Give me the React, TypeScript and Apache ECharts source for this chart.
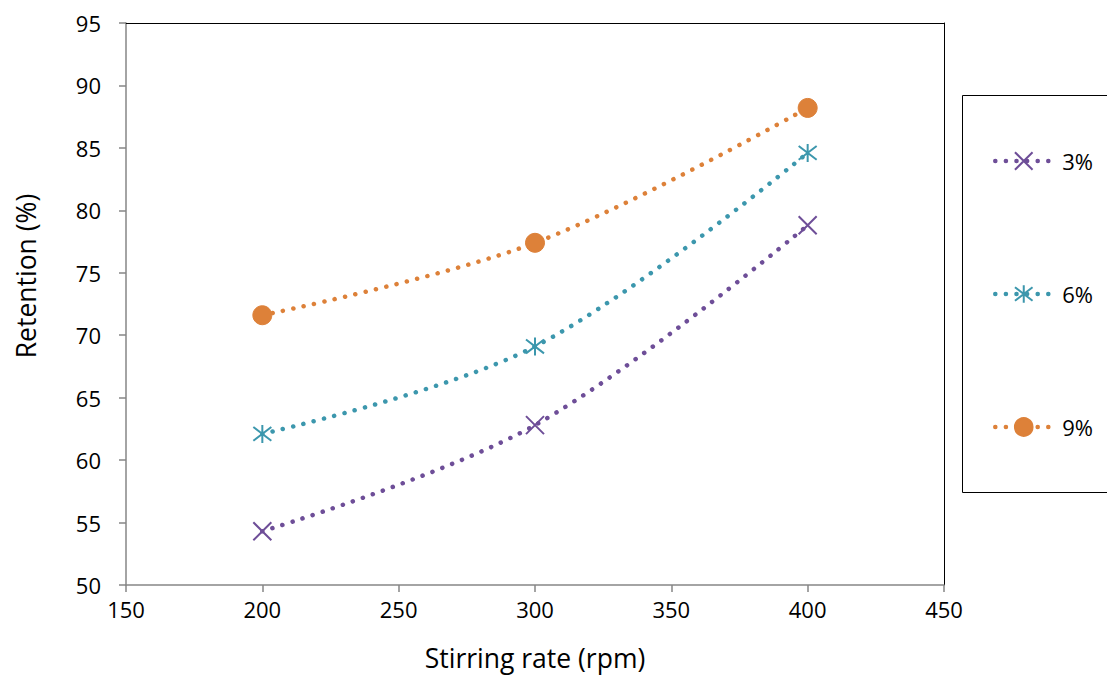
import React, { useEffect, useRef } from "react";
import * as echarts from "echarts";

const stirringRates = [200, 300, 400];
const retention3 = [54.3, 62.8, 78.8];
const retention6 = [62.1, 69.1, 84.6];
const retention9 = [71.6, 77.4, 88.2];
const seriesNames = ["3%", "6%", "9%"];
const colors = ["#6E4E98", "#3C97AD", "#DD8139"];

const FONT = "'Open Sans', 'Noto Sans', sans-serif";
const crossPath = "path://M0,0L10,10M10,0L0,10";
const starPath = "path://M0,0L10,10M10,0L0,10M5,-1.5L5,11.5";

export default function App() {
  const ref = useRef<HTMLDivElement>(null);

  useEffect(() => {
    if (!ref.current) return;
    const chart = echarts.init(ref.current, undefined, { renderer: "svg" });

    const dotted = (color: string) => ({
      color,
      width: 4.5,
      type: [0.1, 10.5],
      cap: "round",
    });

    const pairs = (ys: number[]) => stirringRates.map((x, i) => [x, ys[i]]);

    chart.setOption({
      animation: false,
      backgroundColor: "#ffffff",
      textStyle: { fontFamily: FONT },
      grid: { left: 126, top: 23, right: 163, bottom: 90, outerBoundsMode: "none", containLabel: false },
      graphic: [
        {
          type: "rect",
          shape: { x: 962.5, y: 95.5, width: 200, height: 397 },
          style: { fill: "none", stroke: "#000000", lineWidth: 1 },
        },
      ],
      legend: {
        orient: "vertical",
        left: 988,
        top: 145,
        itemGap: 111,
        itemWidth: 57,
        itemHeight: 22,
        textStyle: { fontFamily: FONT, fontSize: 22, color: "#000000", padding: [0, 0, 0, 5] },
        data: seriesNames.map((name, i) => ({
          name,
          lineStyle: { width: 4.5, type: [0.1, 10.5], cap: "round", color: colors[i] },
        })),
      },
      xAxis: [
        {
          type: "value",
          min: 150,
          max: 450,
          interval: 50,
          name: "Stirring rate (rpm)",
          nameLocation: "middle",
          nameGap: 59,
          nameTextStyle: { fontSize: 26.5, color: "#000000", fontFamily: FONT },
          axisLine: { show: true, lineStyle: { color: "#868686", width: 1.5 } },
          axisTick: { show: true, inside: false, length: 7, lineStyle: { color: "#868686", width: 1.5 } },
          axisLabel: { fontSize: 22, color: "#000000", margin: 13, fontFamily: FONT },
          splitLine: { show: false },
        },
        {
          type: "value",
          position: "top",
          min: 150,
          max: 450,
          axisLine: { show: true, lineStyle: { color: "#000000", width: 1 } },
          axisTick: { show: false },
          axisLabel: { show: false },
          splitLine: { show: false },
        },
      ],
      yAxis: [
        {
          type: "value",
          min: 50,
          max: 95,
          interval: 5,
          name: "Retention (%)",
          nameLocation: "middle",
          nameGap: 87,
          nameTextStyle: { fontSize: 26.5, color: "#000000", fontFamily: FONT, padding: [0, 0, 0, 56] },
          axisLine: { show: true, lineStyle: { color: "#868686", width: 1.5 } },
          axisTick: { show: true, inside: false, length: 7, lineStyle: { color: "#868686", width: 1.5 } },
          axisLabel: { fontSize: 22, color: "#000000", margin: 25, fontFamily: FONT },
          splitLine: { show: false },
        },
        {
          type: "value",
          position: "right",
          min: 50,
          max: 95,
          axisLine: { show: true, lineStyle: { color: "#000000", width: 1 } },
          axisTick: { show: false },
          axisLabel: { show: false },
          splitLine: { show: false },
        },
      ],
      series: [
        {
          name: seriesNames[0],
          type: "line",
          smooth: 0.35,
          data: pairs(retention3),
          symbol: crossPath,
          symbolSize: 18,
          lineStyle: dotted(colors[0]),
          itemStyle: { color: "rgba(0,0,0,0)", borderColor: colors[0], borderWidth: 2 },
        },
        {
          name: seriesNames[1],
          type: "line",
          smooth: 0.35,
          data: pairs(retention6),
          symbol: starPath,
          symbolSize: 18,
          lineStyle: dotted(colors[1]),
          itemStyle: { color: "rgba(0,0,0,0)", borderColor: colors[1], borderWidth: 2 },
        },
        {
          name: seriesNames[2],
          type: "line",
          smooth: 0.35,
          data: pairs(retention9),
          symbol: "circle",
          symbolSize: 19,
          lineStyle: dotted(colors[2]),
          itemStyle: { color: colors[2], borderColor: colors[2], borderWidth: 1 },
        },
      ],
    });

    return () => chart.dispose();
  }, []);

  return <div ref={ref} style={{ width: 1107, height: 675, position: "absolute", left: 0, top: 0 }} />;
}
